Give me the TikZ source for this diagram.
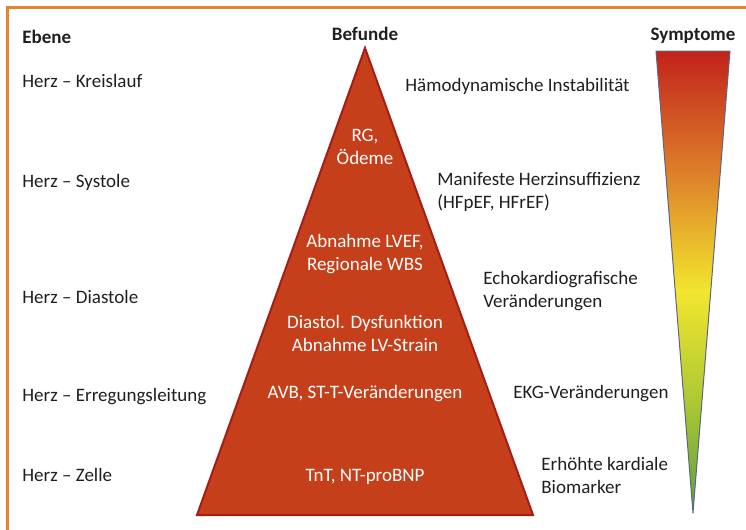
\documentclass[tikz,border=0pt]{standalone}
\usepackage{fontspec}
\setmainfont{Carlito}
\usepackage{xcolor}
\usepackage{tikz}
\usetikzlibrary{positioning}

\definecolor{frameorange}{HTML}{E4862F}
\definecolor{pyrfill}{HTML}{C5401A}
\definecolor{pyrline}{HTML}{A61D17}
\definecolor{symred}{HTML}{C2221A}
\definecolor{symorange}{HTML}{DD7E2B}
\definecolor{symyellow}{HTML}{F2E62E}
\definecolor{symlime}{HTML}{B2CB33}
\definecolor{symgreen}{HTML}{5E9E3E}
\definecolor{symline}{HTML}{5E6484}
\pgfdeclareverticalshading{symptomgrad}{100bp}{color(0bp)=(symgreen); color(25bp)=(symgreen);
  color(38bp)=(symlime); color(49bp)=(symyellow); color(62bp)=(symorange);
  color(75bp)=(symred); color(100bp)=(symred)}

\begin{document}
\begin{tikzpicture}[x=0.5pt,y=-0.5pt,
  txt/.style={inner sep=0pt,text=black!88,font=\fontsize{9.5}{11.5}\selectfont},
  head/.style={txt,font=\fontsize{9.5}{11.5}\selectfont\bfseries},
  befund/.style={txt,text=white,align=center,anchor=base},
  symptom/.style={txt,align=left,anchor=base west}]
\useasboundingbox (0,0) rectangle (746,530);
% ---------- frame ----------
\begin{scope}
\clip (0,0) rectangle (746,530);
\draw[frameorange,line width=1.5pt] (7,7) rectangle (800,600);
\end{scope}
% ---------- headings ----------
\node[head,anchor=base west] (ebene) at (22,43) {Ebene};
\node[head,anchor=base] (befunde) at (365,40) {Befunde};
\node[head,anchor=base] (symptome) at (693,40) {Symptome};
% ---------- pyramid ----------
\coordinate (apex) at (365,48);
\coordinate (baseR) at (533,515);
\coordinate (baseL) at (197,515);
\draw[pyrline,fill=pyrfill,line width=1pt,line join=miter] (apex) -- (baseR) -- (baseL) -- cycle;
% ---------- symptom wedge ----------
\coordinate (topL) at (656,51);
\coordinate (topR) at (730,51);
\coordinate (tip) at (693,513);
\shade[shading=symptomgrad] (topL) -- (topR) -- (tip) -- cycle;
\draw[symline,line width=0.5pt,line join=round] (topL) -- (topR) -- (tip) -- cycle;
% ---------- levels ----------
\foreach \i/\y/\t in {1/87/Kreislauf,2/187/Systole,3/303/Diastole,
                      4/401/Erregungsleitung,5/481/Zelle}
  {\node[txt,anchor=base west] (herz\i) at (22,\y) {Herz -- \t};}
% ---------- findings (y = baseline of last line) ----------
\foreach \i/\y/\t in {1/164/{RG,\\Ödeme},2/270/{Abnahme LVEF,\\Regionale WBS},
                      3/351/{Diastol. Dysfunktion\\Abnahme LV-Strain},
                      4/398/{AVB, ST-T-Veränderungen},5/481/{TnT, NT-proBNP}}
  {\node[befund] (fund\i) at (365,\y) {\t};}
% ---------- symptoms ----------
\foreach \i/\x/\y/\t in {1/405/91/{Hämodynamische Instabilität},
                         2/437/208/{Manifeste Herzinsuffizienz\\(HFpEF, HFrEF)},
                         3/483/307/{Echokardiografische\\Veränderungen},
                         4/513/398/{EKG-Veränderungen},
                         5/541/493/{Erhöhte kardiale\\Biomarker}}
  {\node[symptom] (sym\i) at (\x,\y) {\t};}
\end{tikzpicture}
\end{document}
